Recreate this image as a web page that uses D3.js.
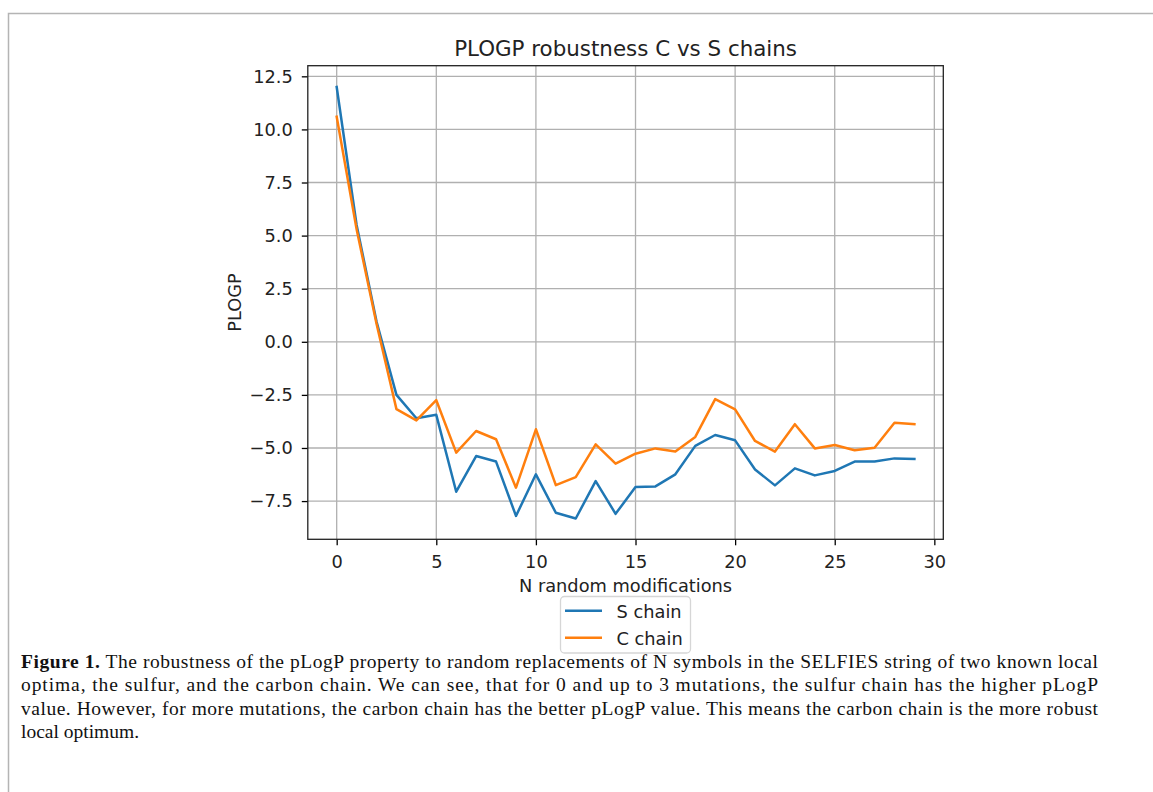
<!DOCTYPE html>
<html><head><meta charset="utf-8">
<script src="https://cdn.jsdelivr.net/npm/d3@7"></script>
<style>
html,body{margin:0;padding:0;background:#fff;overflow:hidden}
svg{display:block}
</style></head>
<body>
<svg id="chart" width="1153" height="792"></svg>
<script>
// ---- data ----
const modifications = d3.range(0, 30);
const sChain = [12.0, 5.5, 0.95, -2.5, -3.6, -3.44, -7.06, -5.38, -5.64, -8.2,
                -6.24, -8.05, -8.32, -6.56, -8.1, -6.84, -6.81, -6.24, -4.9, -4.39,
                -4.64, -6.01, -6.76, -5.96, -6.29, -6.08, -5.64, -5.64, -5.49, -5.52];
const cChain = [10.6, 5.3, 0.85, -3.17, -3.7, -2.75, -5.22, -4.2, -4.59, -6.87,
                -4.12, -6.75, -6.37, -4.83, -5.74, -5.27, -5.02, -5.17, -4.48, -2.7,
                -3.18, -4.67, -5.17, -3.88, -5.02, -4.86, -5.11, -4.99, -3.81, -3.88];
const seriesNames = ["S chain", "C chain"];
const xTicks = [0, 5, 10, 15, 20, 25, 30];
const yTicks = [-7.5, -5.0, -2.5, 0.0, 2.5, 5.0, 7.5, 10.0, 12.5];
const titleText = "PLOGP robustness C vs S chains";
const xLabel = "N random modifications";
const yLabel = "PLOGP";
const captionBold = "Figure 1.";
const captionLines = [
  " The robustness of the pLogP property to random replacements of N symbols in the SELFIES string of two known local",
  "optima, the sulfur, and the carbon chain. We can see, that for 0 and up to 3 mutations, the sulfur chain has the higher pLogP",
  "value. However, for more mutations, the carbon chain has the better pLogP value. This means the carbon chain is the more robust",
  "local optimum."
];

const colors = ["#1f77b4", "#ff7f0e"];
const svg = d3.select("#chart");
const F = "'DejaVu Sans', sans-serif";
const FS = 17.8;

// frame
svg.append("rect").attr("x", 8.5).attr("y", 13.5).attr("width", 1300).attr("height", 900)
  .attr("fill", "none").attr("stroke", "#b4b4b4").attr("stroke-width", 1.5);

const L = 307.8, R = 943.3, T = 65.7, B = 539.3;
const x = d3.scaleLinear().domain([-1.45, 30.45]).range([L, R]);
const y = d3.scaleLinear().domain([-9.3, 13.0]).range([B, T]);

// grid
const g = svg.append("g");
g.selectAll(".gx").data(xTicks).join("line")
  .attr("x1", d => x(d)).attr("x2", d => x(d)).attr("y1", T).attr("y2", B)
  .attr("stroke", "#b0b0b0").attr("stroke-width", 1.3);
g.selectAll(".gy").data(yTicks).join("line")
  .attr("x1", L).attr("x2", R).attr("y1", d => y(d)).attr("y2", d => y(d))
  .attr("stroke", "#b0b0b0").attr("stroke-width", 1.3);

// lines
const line = d3.line().x((d, i) => x(modifications[i])).y(d => y(d));
[sChain, cChain].forEach((s, k) => {
  svg.append("path").datum(s).attr("d", line).attr("fill", "none")
    .attr("stroke", colors[k]).attr("stroke-width", 2.5)
    .attr("stroke-linejoin", "round").attr("stroke-linecap", "square");
});

// axes
const xAxis = d3.axisBottom(x).tickValues(xTicks).tickFormat(d3.format("d")).tickSizeOuter(0).tickSize(6).tickPadding(10);
const yAxis = d3.axisLeft(y).tickValues(yTicks).tickFormat(d => d3.format(".1f")(d).replace("-", "\u2212")).tickSizeOuter(0).tickSize(6).tickPadding(9);
const gx = svg.append("g").attr("transform", `translate(0,${B})`).call(xAxis);
const gy = svg.append("g").attr("transform", `translate(${L},0)`).call(yAxis);
[gx, gy].forEach(a => {
  a.select(".domain").remove();
  a.selectAll("line").attr("stroke", "#000").attr("stroke-width", 1.3);
  a.selectAll("text").attr("font-family", F).attr("font-size", FS).attr("fill", "#222");
});
// spines
svg.append("rect").attr("x", L).attr("y", T).attr("width", R - L).attr("height", B - T)
  .attr("fill", "none").attr("stroke", "#222").attr("stroke-width", 1.3);

// title and labels
svg.append("text").attr("x", (L + R) / 2).attr("y", 56).attr("text-anchor", "middle")
  .attr("font-family", F).attr("font-size", 21.4).attr("fill", "#222").text(titleText);
svg.append("text").attr("x", (L + R) / 2).attr("y", 592).attr("text-anchor", "middle")
  .attr("font-family", F).attr("font-size", FS).attr("fill", "#222").text(xLabel);
svg.append("text").attr("transform", `translate(241,${(T + B) / 2}) rotate(-90)`).attr("text-anchor", "middle")
  .attr("font-family", F).attr("font-size", FS).attr("fill", "#222").text(yLabel);

// legend
const lg = svg.append("g");
lg.append("rect").attr("x", 560.5).attr("y", 596.5).attr("width", 130).attr("height", 56.5).attr("rx", 4)
  .attr("fill", "#fff").attr("stroke", "#d6d6d6").attr("stroke-width", 1.3);
seriesNames.forEach((n, k) => {
  const yy = 610.7 + k * 27;
  lg.append("line").attr("x1", 565).attr("x2", 602).attr("y1", yy).attr("y2", yy)
    .attr("stroke", colors[k]).attr("stroke-width", 2.5);
  lg.append("text").attr("x", 616.5).attr("y", yy + 7).attr("font-family", F).attr("font-size", FS)
    .attr("fill", "#222").text(n);
});

// caption
const cap = svg.append("g");
const baselines = [667.5, 691, 714.5, 738];
const targetRight = 1098;
const capFont = "'Liberation Serif', 'Times New Roman', serif";
const texts = captionLines.map((t, i) => {
  const tx = cap.append("text").attr("x", 21).attr("y", baselines[i])
    .attr("font-family", capFont).attr("font-size", 17.5).attr("fill", "#111");
  if (i === 0) tx.append("tspan").attr("font-weight", "bold").text(captionBold);
  tx.append("tspan").text(t);
  return tx;
});
// choose a size so the longest full line fills the measured width
const widths = texts.slice(0, 3).map(t => t.node().getComputedTextLength());
const fs = Math.min(19.5, 17.5 * (targetRight - 21) / d3.max(widths));
texts.forEach((t, i) => {
  t.attr("font-size", fs);
  if (i < 3) t.attr("textLength", targetRight - 21).attr("lengthAdjust", "spacing");
});
</script>
</body></html>
